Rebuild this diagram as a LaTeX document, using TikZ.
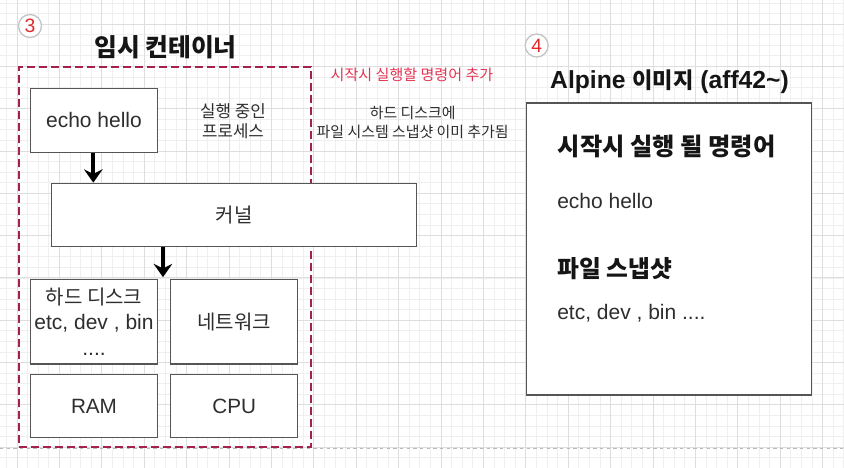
\documentclass[tikz,border=0pt]{standalone}
\usepackage{fontspec}
\setmainfont{Liberation Sans}
\newfontfamily\kr{Noto Sans CJK KR}
\usetikzlibrary{arrows.meta,calc}
\definecolor{gridminor}{HTML}{EFEFEF}
\definecolor{gridmajor}{HTML}{DEDEDE}
\definecolor{boxline}{HTML}{555555}
\definecolor{txt}{HTML}{2E2E2E}
\definecolor{ttl}{HTML}{151515}
\definecolor{dashred}{HTML}{A3214E}
\definecolor{notered}{HTML}{E33553}
\definecolor{numred}{HTML}{E02A2A}
\definecolor{circgray}{HTML}{C4C4C4}
\newcommand\myfs[2]{\fontsize{#1}{#2}\selectfont}
\def\px{0.75pt}
\begin{document}
\begin{tikzpicture}[x=0.75pt,y=-0.75pt,
  box/.style={draw=boxline, fill=white, line width=1pt, inner sep=0pt, text=txt, align=center},
  numcirc/.style={circle, draw=circgray, line width=1pt, fill=white, minimum size=23*\px, inner sep=0pt, text=numred, font=\myfs{14.5}{14.5}},
  arr/.style={line width=3pt, -{Stealth[width=14pt,length=10pt,inset=3.5pt]}},
  plain/.style={inner sep=0pt, text=txt, align=center},
  lefttext/.style={inner sep=0pt, text=txt, anchor=west}
]
\useasboundingbox (0,0) rectangle (844,468);
\fill[white] (0,0) rectangle (844,468);
% grid
\foreach \i in {-1,...,79} {\draw[gridminor, line width=0.6pt] ({17+10.6*\i},0) -- ({17+10.6*\i},468);}
\foreach \i in {-2,...,42} {\draw[gridminor, line width=0.6pt] (0,{24.1+10.575*\i}) -- (844,{24.1+10.575*\i});}
\foreach \i in {0,...,19} {\draw[gridmajor, line width=0.7pt] ({17+42.4*\i},0) -- ({17+42.4*\i},468);}
\foreach \i in {0,...,10} {\draw[gridmajor, line width=0.7pt] (0,{24.1+42.3*\i}) -- (844,{24.1+42.3*\i});}
% page break line
\coordinate (pbl) at (0,448);
\coordinate (pbr) at (844,448);
\draw[color=gray!55, line width=0.7pt, dash pattern=on 2.5pt off 2.5pt] (pbl) -- (pbr);

% left container
\node[numcirc] (n3) at (30,26) {3};
\node[inner sep=0pt, text=ttl, font=\kr\bfseries\myfs{18.6}{20}] (title3) at (165.5,47) {임시 컨테이너};
\node[draw=dashred, line width=1.6pt, dash pattern=on 6pt off 3pt, minimum width=291.7*\px, minimum height=380.3*\px, inner sep=0pt] (cont) at (164.85,257.15) {};

\node[box, minimum width=126.6*\px, minimum height=64*\px, font=\myfs{15.75}{18}] (echo) at (94,120.3) {echo hello};
\node[plain, font=\kr\myfs{12.6}{15}] (proc) at (233,121.7) {실행 중인\\프로세스};
\node[box, minimum width=365*\px, minimum height=63.4*\px, font=\kr\myfs{15}{16}] (kernel) at (234.2,215) {커널};
\node[box, minimum width=126.6*\px, minimum height=84.7*\px, font=\myfs{15.75}{19.3}] (hd) at (94,321.65) {{\kr\myfs{15}{19.3}하드 디스크}\\etc, dev , bin\\....};
\node[box, minimum width=127*\px, minimum height=84.7*\px, font=\kr\myfs{15}{16}] (net) at (234.2,321.65) {네트워크};
\node[box, minimum width=126.6*\px, minimum height=63.4*\px, font=\myfs{15.5}{18}] (ram) at (94,406) {RAM};
\node[box, minimum width=127*\px, minimum height=63.4*\px, font=\myfs{15.5}{18}] (cpu) at (234.2,406) {CPU};

\draw[arr] ([xshift=-0.7*\px]echo.south) -- ([xshift=-0.7*\px]echo.south |- kernel.north);
\draw[arr] ([xshift=5*\px]hd.north east |- kernel.south) -- ([xshift=5*\px,yshift=1.5*\px]hd.north east);

% middle notes
\node[inner sep=0pt, text=notered, font=\kr\myfs{11.3}{12}] (note1) at (412,75) {시작시 실행할 명령어 추가};
\node[plain, font=\kr\myfs{11.2}{14.3}] (note2) at (412.7,122.8) {하드 디스크에\\파일 시스템 스냅샷 이미 추가됨};

% right image
\node[numcirc] (n4) at (536.7,45.5) {4};
\node[inner sep=0pt, text=ttl, font=\bfseries\myfs{18.5}{20}] (title4) at (669.5,82) {Alpine {\kr\myfs{16.6}{20}이미지} (aff42\textasciitilde)};
\node[box, minimum width=285.5*\px, minimum height=292.1*\px] (img) at (668.95,248.95) {};
\node[lefttext, text=ttl, font=\kr\bfseries\myfs{18.2}{20}] (cmdt) at (557.5,146.2) {시작시 실행 될 명령어};
\node[lefttext, font=\myfs{15.75}{18}] (cmd) at (557,200.7) {echo hello};
\node[lefttext, text=ttl, font=\kr\bfseries\myfs{17.8}{20}] (snapt) at (557,268.3) {파일 스냅샷};
\node[lefttext, font=\myfs{15.75}{18}] (snap) at (557,313.3) {etc, dev , bin ....};
\end{tikzpicture}
\end{document}
